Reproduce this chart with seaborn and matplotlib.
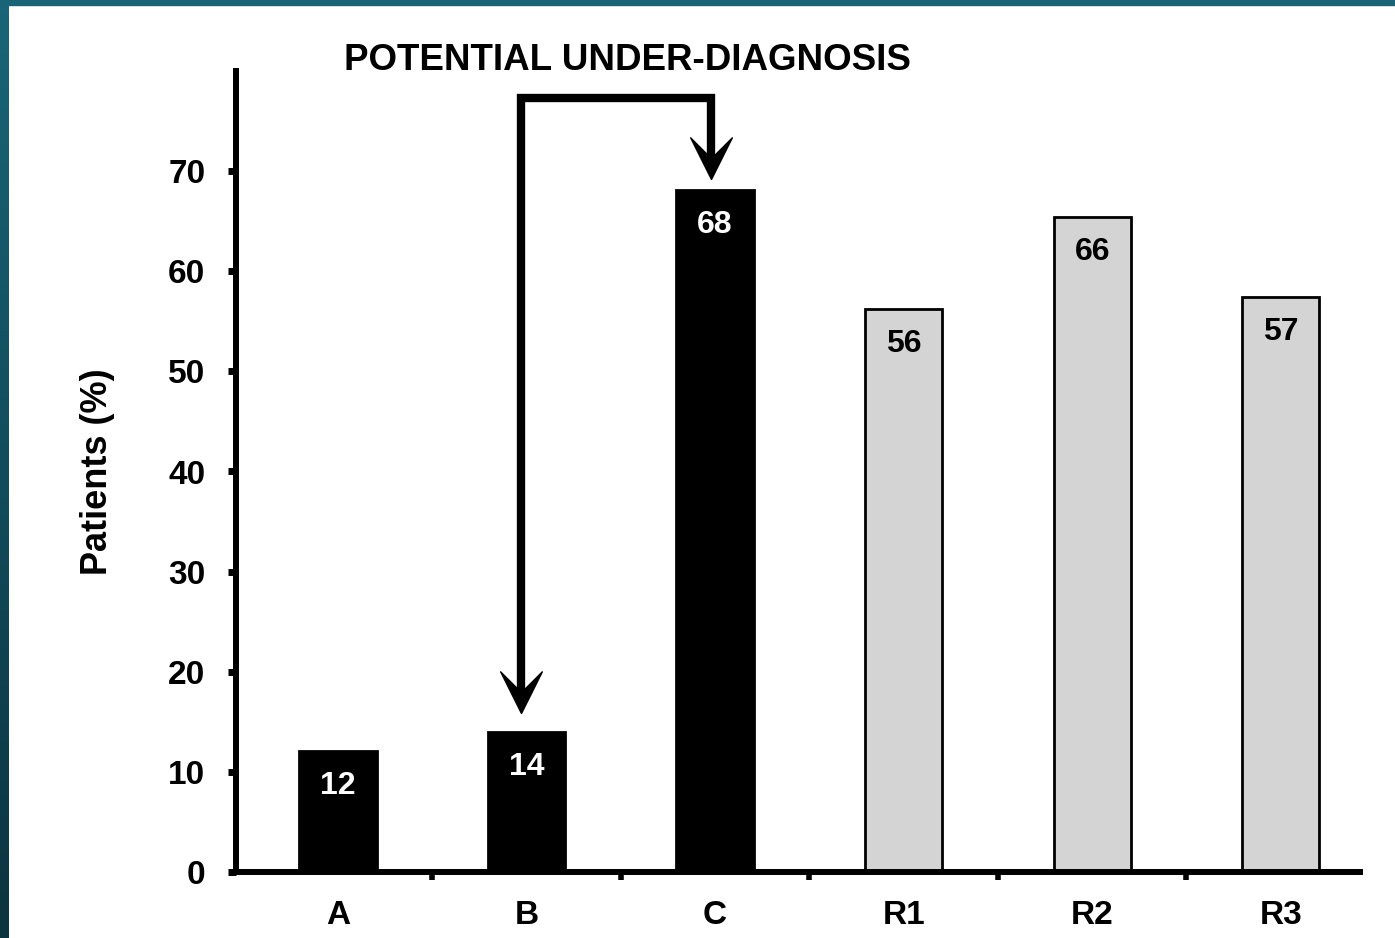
import numpy as np
import pandas as pd
import seaborn as sns
from matplotlib import pyplot as plt
from matplotlib.path import Path
from matplotlib.patches import Rectangle

# values
categories = ["A", "B", "C", "R1", "R2", "R3"]
heights = [12.1, 14.0, 68.1, 56.2, 65.4, 57.4]
bar_labels = ["12", "14", "68", "56", "66", "57"]
bar_colors = ["black", "black", "black", "#d4d4d4", "#d4d4d4", "#d4d4d4"]
label_colors = ["white", "white", "white", "black", "black", "black"]
y_ticks = [0, 10, 20, 30, 40, 50, 60, 70]

sns.set_theme(style="ticks")
plt.rcParams["font.family"] = ["Liberation Sans", "DejaVu Sans"]
plt.rcParams["font.weight"] = "bold"
for key in ["text.color", "axes.labelcolor", "xtick.color", "ytick.color"]:
    plt.rcParams[key] = "black"

df = pd.DataFrame({"cat": categories, "val": heights})

fig = plt.figure(figsize=(13.95, 9.38), dpi=100)
ax = fig.add_axes([236 / 1395, 66 / 938, (1360 - 236) / 1395, (872 - 71) / 938])

sns.barplot(
    data=df, x="cat", y="val", hue="cat", palette=bar_colors, legend=False,
    width=0.41, edgecolor="black", linewidth=2, saturation=1, ax=ax,
)

for i, (h, lab, c) in enumerate(zip(heights, bar_labels, label_colors)):
    ax.annotate(lab, (i, h), xytext=(0, -25), textcoords="offset points",
                ha="center", va="center", color=c, fontsize=23, fontweight="bold")

ax.set_xlim(-0.54, 5.42)
ax.set_ylim(0, 80)
ax.set_yticks(y_ticks)
ax.set_xlabel("")
ax.set_ylabel("Patients (%)", fontsize=26, fontweight="bold", labelpad=38)
ax.set_xticks(range(len(categories)))
ax.set_xticks([i + 0.5 for i in range(len(categories) - 1)], minor=True)
ax.tick_params(axis="x", which="major", length=0, pad=20, labelsize=24)
ax.tick_params(axis="x", which="minor", length=6, width=4)
ax.tick_params(axis="y", length=6, width=5, pad=16, labelsize=24)
for t in ax.get_xticklabels() + ax.get_yticklabels():
    t.set_fontweight("bold")
sns.despine(ax=ax)
for s in ["left", "bottom"]:
    ax.spines[s].set_linewidth(4.3)
    ax.spines[s].set_color("black")

# under-diagnosis bracket from C down to B
xb, xc = 1 - 0.03, 2 - 0.02
top = 77.3
tip_b, tip_c = heights[1] + 1.9, heights[2] + 1.1
ax.plot([xb, xb, xc, xc], [tip_b + 2, top, top, tip_c + 2], color="black",
        lw=6, solid_joinstyle="miter", solid_capstyle="butt", clip_on=False)
head = Path([(0, 0), (-0.5, 1), (0, 0.5), (0.5, 1), (0, 0)],
            [Path.MOVETO, Path.LINETO, Path.LINETO, Path.LINETO, Path.CLOSEPOLY])
ax.plot([xb, xc], [tip_b, tip_c], linestyle="none", marker=head,
        markersize=60, color="black", clip_on=False)
ax.text((xb + xc) / 2 + 0.06, 81.0, "POTENTIAL UNDER-DIAGNOSIS", ha="center",
        va="center", fontsize=26.5, fontweight="bold")

# teal frame on top and left
fig.patches.append(Rectangle((0, 1 - 5 / 938), 1, 5 / 938, transform=fig.transFigure,
                             color="#196577", zorder=10))
edge = fig.add_axes([0, 0, 9 / 1395, 1 - 5 / 938])
edge.imshow(np.linspace(0, 1, 100).reshape(-1, 1), aspect="auto",
            cmap=sns.blend_palette(["#196577", "#0c3440"], as_cmap=True))
edge.set_axis_off()

fig.savefig("out.png", dpi=100)
